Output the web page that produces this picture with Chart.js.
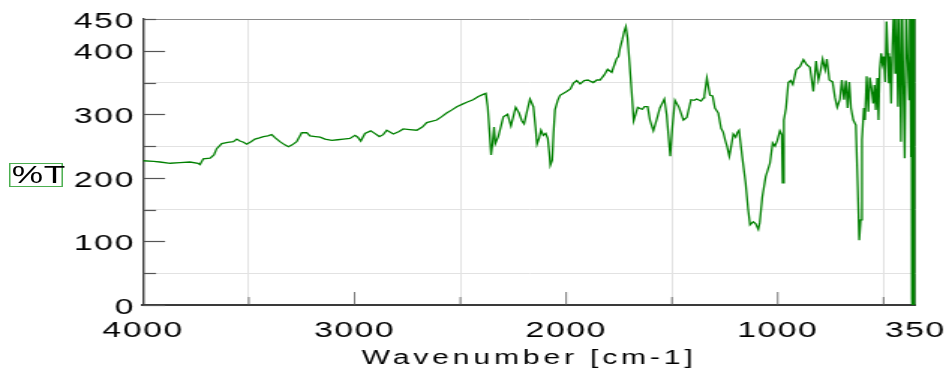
<!DOCTYPE html>
<html>
<head>
<meta charset="utf-8">
<script src="https://cdn.jsdelivr.net/npm/chart.js@4"></script>
<style>
  html, body { margin: 0; padding: 0; background: #fff; overflow: hidden; }
  #wrap { position: relative; width: 633px; height: 371px; transform: scaleX(1.4992); transform-origin: 0 0; }
  #ylabel {
    position: absolute; left: 5.8px; top: 162.5px; width: 36px; height: 24.5px;
    border: 1px solid #4caf50; box-sizing: border-box;
    font: 23.5px "Liberation Sans", Arial, sans-serif; letter-spacing: 0.5px;
    line-height: 23px; color: #000; padding-left: 1px; white-space: nowrap;
  }
</style>
</head>
<body>
<div id="wrap">
  <canvas id="chart" width="633" height="371"></canvas>
  <div id="ylabel">%T</div>
</div>
<script>
// spectrum
const wavenumbers = [
  4000, 3950, 3920, 3872, 3825, 3778, 3740, 3731, 3715, 3683, 3665, 3652, 3628, 3600, 3573, 3557,
  3542, 3525, 3510, 3490, 3471, 3450, 3431, 3410, 3392, 3375, 3353, 3330, 3313, 3295, 3274, 3250,
  3226, 3211, 3185, 3163, 3140, 3108, 3080, 3053, 3022, 2998, 2985, 2971, 2951, 2924, 2905, 2883,
  2865, 2848, 2817, 2790, 2770, 2740, 2706, 2680, 2659, 2612, 2590, 2565, 2540, 2517, 2490, 2470,
  2440, 2415, 2395, 2380, 2371, 2362, 2355, 2348, 2341, 2335, 2321, 2297, 2277, 2261, 2239, 2223,
  2210, 2199, 2185, 2171, 2155, 2145, 2138, 2128, 2119, 2108, 2097, 2087, 2080, 2075, 2066, 2060,
  2053, 2040, 2029, 1998, 1980, 1966, 1950, 1934, 1915, 1898, 1872, 1855, 1840, 1820, 1804, 1785,
  1770, 1761, 1753, 1745, 1735, 1726, 1718, 1710, 1703, 1690, 1681, 1672, 1662, 1650, 1640, 1630,
  1615, 1604, 1588, 1572, 1557, 1545, 1536, 1525, 1515, 1508, 1498, 1486, 1467, 1446, 1430, 1410,
  1395, 1383, 1363, 1350, 1347, 1335, 1325, 1320, 1308, 1297, 1281, 1268, 1258, 1249, 1240, 1229,
  1220, 1210, 1199, 1190, 1183, 1168, 1152, 1140, 1131, 1116, 1105, 1092, 1085, 1073, 1057, 1037,
  1024, 1013, 1002, 990, 981, 977, 971, 961, 950, 939, 929, 913, 895, 879, 863, 848,
  832, 819, 808, 797, 788, 776, 768, 756, 741, 730, 719, 706, 697, 687, 678, 670,
  662, 654, 643, 631, 622, 615, 608, 602, 593, 588, 580, 572, 565, 557, 549, 543,
  537, 530, 524, 518, 511, 505, 499, 492, 486, 480, 475, 470, 464, 458, 451, 445,
  439, 432, 426, 418, 412, 406, 400, 393, 387, 379, 376, 370, 368, 366, 364, 362,
  360, 358, 356, 354, 352, 350
];
const transmittance = [
  227, 226, 225, 223, 224, 225, 223, 221, 230, 231, 236, 246, 254, 256, 257, 261,
  258, 256, 253, 257, 261, 263, 265, 266, 268, 263, 257, 252, 249, 252, 257, 271,
  271, 266, 265, 264, 261, 259, 260, 261, 262, 267, 264, 258, 270, 274, 270, 265,
  268, 275, 269, 273, 277, 276, 275, 280, 287, 291, 296, 302, 307, 312, 316, 319,
  323, 328, 331, 333, 312, 270, 236, 255, 280, 254, 265, 296, 300, 282, 311, 302,
  290, 285, 305, 324, 312, 280, 253, 262, 275, 267, 270, 262, 240, 220, 228, 270,
  307, 322, 330, 336, 340, 349, 353, 348, 353, 354, 350, 354, 354, 362, 371, 366,
  380, 388, 391, 405, 417, 430, 438, 420, 391, 333, 290, 300, 311, 309, 308, 312,
  312, 291, 274, 292, 310, 318, 324, 299, 260, 234, 281, 322, 311, 291, 295, 323,
  322, 324, 321, 326, 329, 357, 338, 330, 329, 310, 302, 278, 272, 260, 250, 234,
  250, 269, 264, 272, 275, 233, 192, 150, 126, 131, 128, 119, 130, 170, 202, 223,
  255, 250, 259, 274, 268, 192, 291, 310, 350, 353, 347, 370, 375, 386, 378, 374,
  336, 384, 354, 370, 387, 370, 387, 354, 351, 327, 311, 324, 354, 323, 353, 310,
  351, 310, 291, 283, 186, 102, 134, 260, 310, 291, 360, 304, 358, 341, 317, 346,
  307, 357, 291, 371, 396, 380, 391, 351, 446, 396, 349, 391, 317, 406, 470, 365,
  470, 312, 460, 257, 470, 344, 231, 470, 396, 323, 480, 234, 480, 10, 490, -20,
  480, -30, 470, -40, 460, -50
];

const xTicks = [4000, 3500, 3000, 2500, 2000, 1500, 1000, 500, 350];
const xLabels = [4000, 3000, 2000, 1000, 350];
const yTicks = [0, 50, 100, 150, 200, 250, 300, 350, 400, 450];
const yLabels = [0, 100, 200, 300, 400, 450];

const FONT = '"Liberation Sans", Arial, sans-serif';
const GRID = "#e2e2e2";
const EDGE = "#8a8a8a";

// wide text like the original: title gets more spacing than the tick labels
// (tick labels are on layer z=1, drawn after the datasets)
const spacing = {
  id: "spacing",
  beforeLayout(chart) { chart.ctx.letterSpacing = "1px"; },
  beforeDraw(chart) { chart.ctx.letterSpacing = "2.6px"; },
  afterDatasetsDraw(chart) { chart.ctx.letterSpacing = "1px"; }
};

// tick marks pointing into the plot
const innerTicks = {
  id: "innerTicks",
  beforeDatasetsDraw(chart) {
    const { ctx, chartArea: a, scales: { x, y } } = chart;
    ctx.save();
    ctx.strokeStyle = "#555";
    ctx.lineWidth = 1.2;
    yTicks.forEach(v => {
      const py = Math.round(y.getPixelForValue(v)) + 0.5;
      const len = v % 100 === 0 ? 14.7 : 8.7;
      ctx.beginPath();
      ctx.moveTo(a.left, py);
      ctx.lineTo(a.left + len, py);
      ctx.stroke();
    });
    ctx.lineWidth = 0.8;
    xTicks.forEach(v => {
      if (v === 4000 || v === 350) return;
      const px = x.getPixelForValue(v);
      const len = v % 1000 === 0 ? 13 : 8;
      ctx.beginPath();
      ctx.moveTo(px, a.bottom);
      ctx.lineTo(px, a.bottom - len);
      ctx.stroke();
    });
    ctx.restore();
  }
};

new Chart(document.getElementById("chart"), {
  type: "line",
  data: {
    labels: wavenumbers,
    datasets: [{
      data: wavenumbers.map((w, i) => ({ x: w, y: transmittance[i] })),
      borderColor: "#008000",
      borderWidth: 1.3,
      pointRadius: 0,
      tension: 0,
      fill: false
    }]
  },
  options: {
    responsive: false,
    devicePixelRatio: 1,
    animation: false,
    parsing: false,
    layout: { padding: { left: 0, right: 22.5, top: 19, bottom: 0 } },
    plugins: { legend: { display: false }, tooltip: { enabled: false } },
    scales: {
      x: {
        type: "linear",
        reverse: true,
        min: 350,
        max: 4000,
        afterBuildTicks: s => { s.ticks = xTicks.map(v => ({ value: v })); },
        afterFit: s => { s.height = 66; s.paddingLeft = 0; s.paddingRight = 0; },
        ticks: {
          z: 1,
          autoSkip: false,
          maxRotation: 0,
          padding: 12.5,
          color: "#000",
          font: { family: FONT, size: 22.5 },
          callback: v => xLabels.includes(v) ? String(v) : ""
        },
        grid: {
          drawTicks: false,
          lineWidth: 1,
          color: c => c.tick && c.tick.value === 350 ? EDGE : (c.tick && c.tick.value % 1000 === 500 ? GRID : "rgba(0,0,0,0)")
        },
        border: { color: "#3a3a3a", width: 2 },
        title: {
          display: true,
          text: "Wavenumber [cm-1]",
          color: "#000",
          font: { family: FONT, size: 20 },
          padding: { top: 0, bottom: 1 }
        }
      },
      y: {
        min: 0,
        max: 450,
        afterBuildTicks: s => { s.ticks = yTicks.map(v => ({ value: v })); },
        afterFit: s => { s.width = 95.4; s.paddingTop = 0; s.paddingBottom = 0; },
        ticks: {
          z: 1,
          autoSkip: false,
          padding: 5.5,
          labelOffset: 2.5,
          color: "#000",
          font: { family: FONT, size: 22.5 },
          callback: v => yLabels.includes(v) ? String(v) : ""
        },
        grid: {
          drawTicks: false,
          lineWidth: 1,
          color: c => c.tick && c.tick.value === 450 ? EDGE : (c.tick && c.tick.value % 100 === 50 ? GRID : "rgba(0,0,0,0)")
        },
        border: { color: "#3a3a3a", width: 1.4 }
      }
    }
  },
  plugins: [spacing, innerTicks]
});
</script>
</body>
</html>
